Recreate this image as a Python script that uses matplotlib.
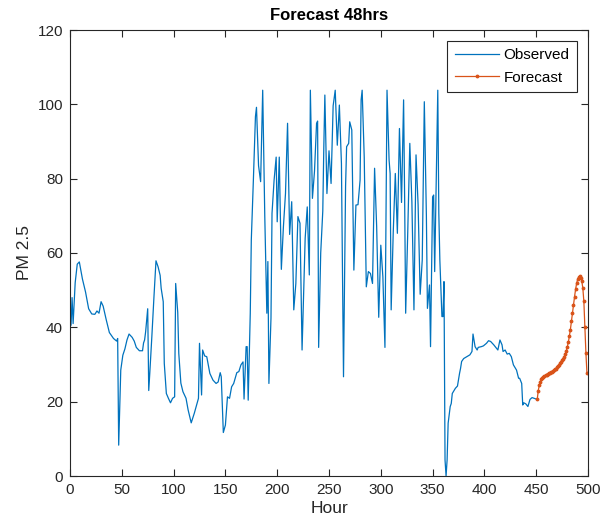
import matplotlib
matplotlib.use("Agg")
import matplotlib.pyplot as plt

plt.rcParams['font.family'] = ['Liberation Sans', 'DejaVu Sans']

# Observed PM2.5 (hour, value)
obs_hours = [1, 2, 3, 5, 7, 9, 12, 15, 18, 21, 24, 26, 28, 30, 32, 35, 38, 42, 45, 46,
             47, 49, 51, 53, 55, 57, 60, 62, 64, 67, 70, 71, 72, 73, 75, 76, 77, 79, 81, 83,
             85, 87, 88, 90, 91, 93, 95, 97, 99, 101, 102, 104, 105, 107, 109, 112, 114, 117, 120, 124,
             125, 127, 128, 130, 132, 135, 138, 141, 143, 145, 146, 148, 150, 152, 154, 156, 158, 161, 163, 165,
             167, 168, 170, 171, 172, 174, 175, 177, 179, 180, 182, 184, 186, 188, 190, 191, 192, 194, 195, 197,
             199, 200, 202, 204, 206, 208, 210, 212, 214, 216, 218, 220, 222, 224, 226, 227, 229, 231, 232, 234,
             236, 238, 239, 240, 242, 244, 245, 246, 248, 250, 252, 254, 256, 258, 260, 262, 264, 266, 267, 269,
             270, 272, 274, 276, 278, 280, 281, 282, 284, 286, 288, 290, 292, 294, 296, 298, 300, 302, 304, 306,
             308, 309, 310, 312, 314, 316, 318, 320, 322, 323, 324, 326, 328, 330, 332, 334, 336, 338, 340, 341,
             342, 344, 345, 347, 348, 350, 351, 352, 355, 356, 357, 359, 360, 361, 362, 363, 364, 365, 367, 368,
             369, 372, 374, 376, 377, 378, 380, 383, 386, 388, 389, 391, 393, 394, 397, 399, 402, 404, 406, 409,
             411, 413, 415, 417, 418, 420, 422, 424, 426, 428, 431, 433, 434, 436, 437, 438, 440, 442, 444, 446,
             448, 451]
obs_values = [40.6, 48.0, 41.0, 52.0, 57.0, 57.6, 53.0, 49.5, 45.0, 43.6, 43.5, 44.4, 43.8, 46.9, 45.7, 42.0, 38.6, 37.0, 36.3, 37.0,
              8.3, 28.5, 32.5, 34.2, 36.6, 38.2, 37.3, 36.3, 34.6, 33.7, 33.7, 35.8, 36.6, 38.8, 45.0, 23.0, 27.6, 37.5, 48.0, 57.9,
              56.3, 54.0, 50.5, 46.9, 30.3, 22.2, 20.9, 19.7, 20.9, 21.3, 51.8, 44.0, 33.0, 25.0, 22.7, 20.9, 17.8, 14.3, 16.9, 20.9,
              35.7, 21.8, 33.9, 32.3, 32.1, 27.6, 25.8, 24.9, 25.3, 27.8, 26.7, 11.7, 13.7, 21.3, 20.9, 24.0, 24.9, 27.8, 28.1, 29.9,
              30.7, 20.7, 34.8, 34.8, 20.4, 43.8, 63.5, 79.6, 96.7, 99.2, 83.5, 79.2, 103.8, 70.0, 43.8, 57.7, 24.9, 42.5, 70.7, 79.6,
              85.8, 68.4, 85.8, 55.6, 67.1, 76.0, 94.9, 65.0, 73.8, 44.7, 51.8, 69.8, 68.0, 33.9, 54.5, 64.0, 72.4, 54.1, 103.8, 74.7,
              82.0, 94.9, 95.5, 34.6, 60.0, 71.3, 88.6, 102.5, 76.0, 87.5, 78.7, 99.6, 103.8, 89.0, 99.8, 84.1, 26.7, 78.0, 88.6, 89.5,
              95.3, 93.1, 55.4, 72.9, 73.0, 79.6, 101.2, 103.8, 85.8, 50.9, 55.0, 54.5, 51.8, 82.8, 67.1, 42.7, 62.1, 53.6, 34.6, 103.8,
              85.0, 81.4, 44.7, 65.5, 81.4, 65.3, 93.5, 73.6, 101.2, 75.0, 43.8, 65.5, 89.5, 73.8, 44.7, 86.4, 73.0, 48.9, 58.1, 80.0,
              100.7, 70.0, 45.1, 51.4, 34.8, 75.1, 75.6, 55.0, 103.8, 70.7, 58.1, 42.9, 42.9, 52.3, 4.3, 0.0, 4.3, 14.2, 18.7, 19.5,
              22.2, 23.6, 24.2, 27.6, 29.0, 30.8, 31.6, 32.1, 32.6, 33.5, 38.2, 34.8, 33.9, 34.6, 34.8, 35.0, 35.7, 36.4, 36.2, 35.3,
              34.6, 33.9, 36.6, 35.3, 33.5, 33.9, 32.8, 33.0, 32.1, 29.9, 28.5, 26.3, 26.3, 24.9, 19.1, 19.7, 19.4, 18.7, 20.6, 21.1,
              20.9, 20.6]

# 48-hour forecast, starting from the last observation
fc_hours = list(range(451, 500))
fc_values = [20.6, 23.0, 24.4, 25.4, 26.0, 26.4, 26.7, 26.9, 27.1, 27.3,
             27.5, 27.6, 27.8, 27.9, 28.0, 28.2, 28.4, 28.7, 28.9, 29.2,
             29.5, 29.9, 30.3, 30.7, 31.2, 31.6, 32.1, 32.8, 33.6, 34.7,
             36.0, 37.6, 39.4, 41.6, 43.8, 46.0, 48.2, 50.2, 51.8, 52.9,
             53.5, 53.7, 53.3, 52.4, 50.6, 47.0, 40.0, 33.0, 27.6]

x_ticks = [0, 50, 100, 150, 200, 250, 300, 350, 400, 450, 500]
y_ticks = [0, 20, 40, 60, 80, 100, 120]

axis_color = '#262626'

fig = plt.figure(figsize=(6.10, 5.31), dpi=100)
ax = fig.add_axes([70 / 610, 1 - 476 / 531, 518 / 610, 446 / 531])

ax.plot(obs_hours, obs_values, color='#0072BD', lw=0.9, label='Observed')
ax.plot(fc_hours, fc_values, color='#D95319', lw=0.9, marker='.', markersize=3.5,
        label='Forecast')

ax.set_xlim(0, 500)
ax.set_ylim(0, 120)
ax.set_xticks(x_ticks)
ax.set_yticks(y_ticks)
ax.tick_params(direction='in', top=True, right=True, length=5, width=0.8,
               colors=axis_color, labelsize=11, pad=5)
for s in ax.spines.values():
    s.set_color(axis_color)
    s.set_linewidth(0.8)

ax.set_title('Forecast 48hrs', fontsize=12, fontweight='bold', color='black', pad=7)
ax.set_xlabel('Hour', fontsize=12.5, color=axis_color, labelpad=3)
ax.set_ylabel('PM 2.5', fontsize=12.5, color=axis_color, labelpad=4)

leg = ax.legend(loc='upper right', fontsize=11, fancybox=False, framealpha=1,
                edgecolor=axis_color, handlelength=2.9, borderaxespad=0.7,
                handletextpad=0.3, borderpad=0.5, labelspacing=0.55)
leg.get_frame().set_linewidth(0.8)

fig.savefig('out.png', dpi=100)
